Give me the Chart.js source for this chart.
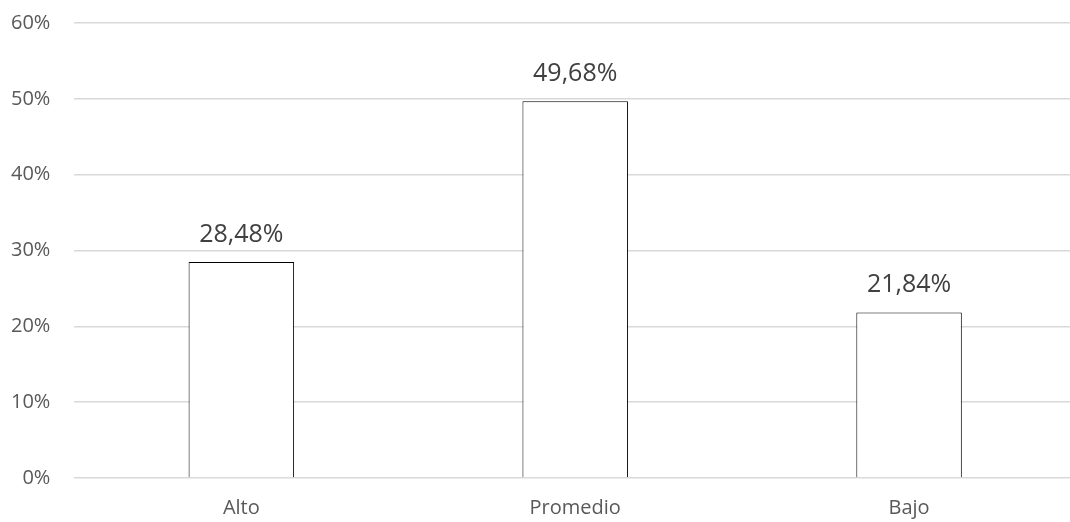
<!DOCTYPE html>
<html>
<head>
<meta charset="utf-8">
<script src="https://cdn.jsdelivr.net/npm/chart.js@4/dist/chart.umd.min.js"></script>
<style>
    html, body { margin: 0; padding: 0; background: #fff; overflow: hidden; }
    #wrap { position: relative; width: 1097px; height: 543px; margin-left: -21px; margin-top: -13px; }
</style>
</head>
<body>
<div id="wrap"><canvas id="chart"></canvas></div>
<script>
// Chart data
var categories = ['Alto', 'Promedio', 'Bajo'];
var percentages = [28.48, 49.68, 21.84];
var yTicks = [0, 10, 20, 30, 40, 50, 60];

function fmtPct(v) {
    return v.toFixed(2).replace('.', ',') + '%';
}

// Draws the value above each bar
var valueLabels = {
    id: 'valueLabels',
    afterDatasetsDraw: function(chart) {
        var ctx = chart.ctx;
        var meta = chart.getDatasetMeta(0);
        ctx.save();
        ctx.font = '25px "Open Sans", sans-serif';
        ctx.fillStyle = '#404040';
        ctx.textAlign = 'center';
        ctx.textBaseline = 'alphabetic';
        meta.data.forEach(function(bar, i) {
            ctx.fillText(fmtPct(percentages[i]), bar.x, bar.y - 20);
        });
        ctx.restore();
    }
};

var ctx = document.getElementById('chart');
new Chart(ctx, {
    type: 'bar',
    data: {
        labels: categories,
        datasets: [{
            data: percentages,
            backgroundColor: '#ffffff',
            borderColor: '#000000',
            borderWidth: 1,
            categoryPercentage: 1,
            barPercentage: 0.316
        }]
    },
    options: {
        responsive: true,
        maintainAspectRatio: false,
        animation: false,
        layout: { padding: { top: 6, left: 8, right: 0, bottom: 0 } },
        plugins: {
            legend: { display: false },
            tooltip: { enabled: false }
        },
        scales: {
            x: {
                grid: { display: false },
                border: { display: false },
                ticks: {
                    color: '#595959',
                    font: { family: '"Open Sans", sans-serif', size: 20 },
                    padding: 10
                }
            },
            y: {
                min: 0,
                max: 60,
                afterBuildTicks: function(axis) {
                    axis.ticks = yTicks.map(function(v) { return { value: v }; });
                },
                grid: { color: '#d9d9d9', lineWidth: 1.5, drawTicks: false },
                border: { display: false },
                ticks: {
                    color: '#595959',
                    font: { family: '"Open Sans", sans-serif', size: 20 },
                    padding: 24,
                    callback: function(v) { return v + '%'; }
                }
            }
        }
    },
    plugins: [valueLabels]
});
</script>
</body>
</html>
